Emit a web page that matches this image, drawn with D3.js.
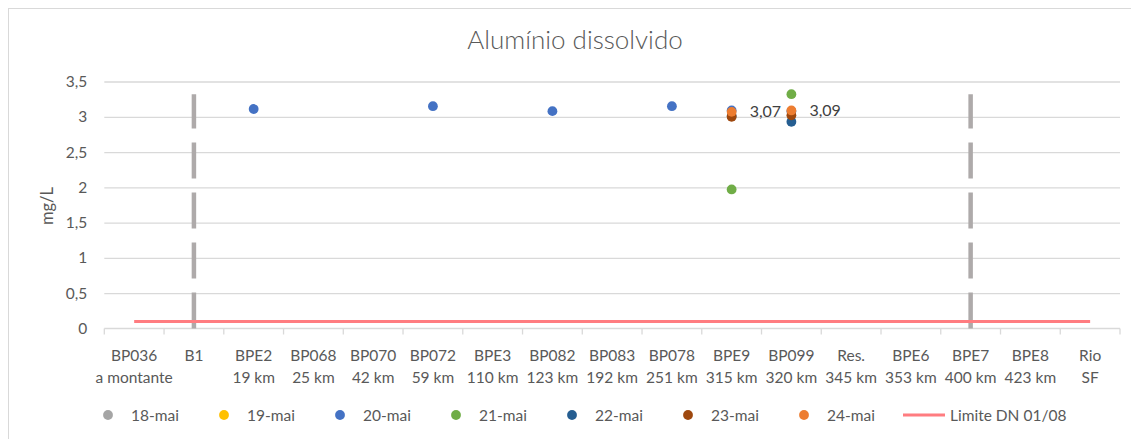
<!DOCTYPE html>
<html><head><meta charset="utf-8">
<script src="https://cdn.jsdelivr.net/npm/d3@7"></script>
<style>
body{margin:0;background:#fff}
svg{display:block}
text{font-family:Lato,"Open Sans",sans-serif;fill:#595959}
</style>
</head><body>
<svg id="c" width="1131" height="439"></svg>
<script>
// ---- data ----
const stations  = ["BP036","B1","BPE2","BP068","BP070","BP072","BPE3","BP082","BP083","BP078","BPE9","BP099","Res.","BPE6","BPE7","BPE8","Rio"];
const distances = ["a montante","","19 km","25 km","42 km","59 km","110 km","123 km","192 km","251 km","315 km","320 km","345 km","353 km","400 km","423 km","SF"];
const seriesNames  = ["18-mai","19-mai","20-mai","21-mai","22-mai","23-mai","24-mai"];
const seriesColors = ["#A5A5A5","#FFC000","#4472C4","#70AD47","#255E91","#9E480E","#ED7D31"];
const v18 = [null,null,null,null,null,null,null,null,null,null,null,null,null,null,null,null,null];
const v19 = [null,null,null,null,null,null,null,null,null,null,null,null,null,null,null,null,null];
const v20 = [null,null,3.11,null,null,3.15,null,3.08,null,3.15,3.09,3.08,null,null,null,null,null];
const v21 = [null,null,null,null,null,null,null,null,null,null,1.97,3.32,null,null,null,null,null];
const v22 = [null,null,null,null,null,null,null,null,null,null,3.01,2.93,null,null,null,null,null];
const v23 = [null,null,null,null,null,null,null,null,null,null,3.00,3.02,null,null,null,null,null];
const v24 = [null,null,null,null,null,null,null,null,null,null,3.07,3.09,null,null,null,null,null];
const labelledSeries = "24-mai";
const limitName  = "Limite DN 01/08";
const limitValue = 0.1;
const limitColor = "#FF7C80";
const dividerStations = ["B1","BPE7"];
const dividerTop = 3.32;
const yTicks = [0,0.5,1,1.5,2,2.5,3,3.5];
const title = "Alumínio dissolvido";
const yLabel = "mg/L";

const seriesValues = [v18,v19,v20,v21,v22,v23,v24];

// ---- drawing ----
const svg = d3.select("#c");
const pLeft = 104.3, pRight = 1120, pTop = 81.5, pBottom = 328.5;
const x = d3.scaleBand().domain(stations).range([pLeft,pRight]);
const y = d3.scaleLinear().domain([0,3.5]).range([pBottom,pTop]);
const loc = d3.formatLocale({decimal:",",thousands:".",grouping:[3],currency:["",""]});
const fTick = loc.format("~f"), fLab = loc.format(".2f");

// chart border
svg.append("rect").attr("x",8.5).attr("y",8.5).attr("width",1200).attr("height",500)
  .attr("fill","none").attr("stroke","#D9D9D9").attr("stroke-width",1);

// title
svg.append("text").attr("x",575).attr("y",49).attr("text-anchor","middle")
  .style("font-size","26px").style("font-weight",300).text(title);

// gridlines + y labels
const ya = svg.append("g").attr("transform",`translate(${pLeft},0)`)
  .call(d3.axisLeft(y).tickValues(yTicks).tickSize(-(pRight-pLeft)).tickPadding(17).tickFormat(fTick));
ya.select(".domain").remove();
ya.selectAll(".tick line").attr("stroke","#D9D9D9").attr("stroke-width",1.3)
  .filter(d=>d===0).remove();
ya.selectAll(".tick text").style("font-size","15.5px").style("font-family","Lato,'Open Sans',sans-serif").attr("fill","#595959");

// y axis title
svg.append("text").attr("transform","translate(53,206) rotate(-90)").attr("text-anchor","middle")
  .style("font-size","16.5px").text(yLabel);

// x axis line and ticks at band boundaries
svg.append("line").attr("x1",pLeft).attr("x2",pRight).attr("y1",pBottom).attr("y2",pBottom)
  .attr("stroke","#D9D9D9").attr("stroke-width",1.3);
const bounds = stations.map(s=>x(s)).concat([x(stations[stations.length-1])+x.bandwidth()]);
svg.append("g").selectAll("line").data(bounds).join("line")
  .attr("x1",d=>d).attr("x2",d=>d).attr("y1",pBottom).attr("y2",pBottom+6)
  .attr("stroke","#D9D9D9").attr("stroke-width",1.3);

// x labels (two lines)
const xa = svg.append("g").attr("transform",`translate(0,${pBottom})`)
  .call(d3.axisBottom(x).tickSize(0).tickPadding(0).tickFormat(""));
xa.select(".domain").remove();
xa.selectAll(".tick").each(function(d,i){
  const t = d3.select(this).append("text").attr("text-anchor","middle")
    .style("font-size","15.5px").style("font-family","Lato,'Open Sans',sans-serif").attr("fill","#595959");
  t.append("tspan").attr("x",0).attr("y",32).text(stations[i]);
  t.append("tspan").attr("x",0).attr("y",54).text(distances[i]);
});

// dashed divider lines
svg.append("g").selectAll("line").data(dividerStations).join("line")
  .attr("x1",d=>x(d)+x.bandwidth()/2).attr("x2",d=>x(d)+x.bandwidth()/2)
  .attr("y1",y(0)).attr("y2",y(dividerTop))
  .attr("stroke","#AEAAAA").attr("stroke-width",4.5).attr("stroke-dasharray","36,14");

// limit line
svg.append("line")
  .attr("x1",x(stations[0])+x.bandwidth()/2).attr("x2",x(stations[stations.length-1])+x.bandwidth()/2)
  .attr("y1",y(limitValue)).attr("y2",y(limitValue))
  .attr("stroke",limitColor).attr("stroke-width",3);

// points
seriesNames.forEach((name,si)=>{
  const pts = seriesValues[si].map((v,i)=>({s:stations[i],v})).filter(d=>d.v!=null);
  svg.append("g").selectAll("circle").data(pts).join("circle")
    .attr("cx",d=>x(d.s)+x.bandwidth()/2).attr("cy",d=>y(d.v)).attr("r",4.9)
    .attr("fill",seriesColors[si]);
  if(name===labelledSeries){
    svg.append("g").selectAll("text").data(pts).join("text")
      .attr("x",d=>x(d.s)+x.bandwidth()/2+18).attr("y",d=>y(d.v)+5.5)
      .style("font-size","16px").style("fill","#404040").text(d=>fLab(d.v));
  }
});

// legend
const lg = svg.append("g");
seriesNames.forEach((name,i)=>{
  const cx = 108 + 116*i;
  lg.append("circle").attr("cx",cx).attr("cy",415).attr("r",4.9).attr("fill",seriesColors[i]);
  lg.append("text").attr("x",cx+23).attr("y",420.5).style("font-size","15.5px").text(name);
});
lg.append("line").attr("x1",903).attr("x2",945).attr("y1",415).attr("y2",415)
  .attr("stroke",limitColor).attr("stroke-width",3);
lg.append("text").attr("x",950).attr("y",420.5).style("font-size","15.5px").text(limitName);
</script>
</body></html>
